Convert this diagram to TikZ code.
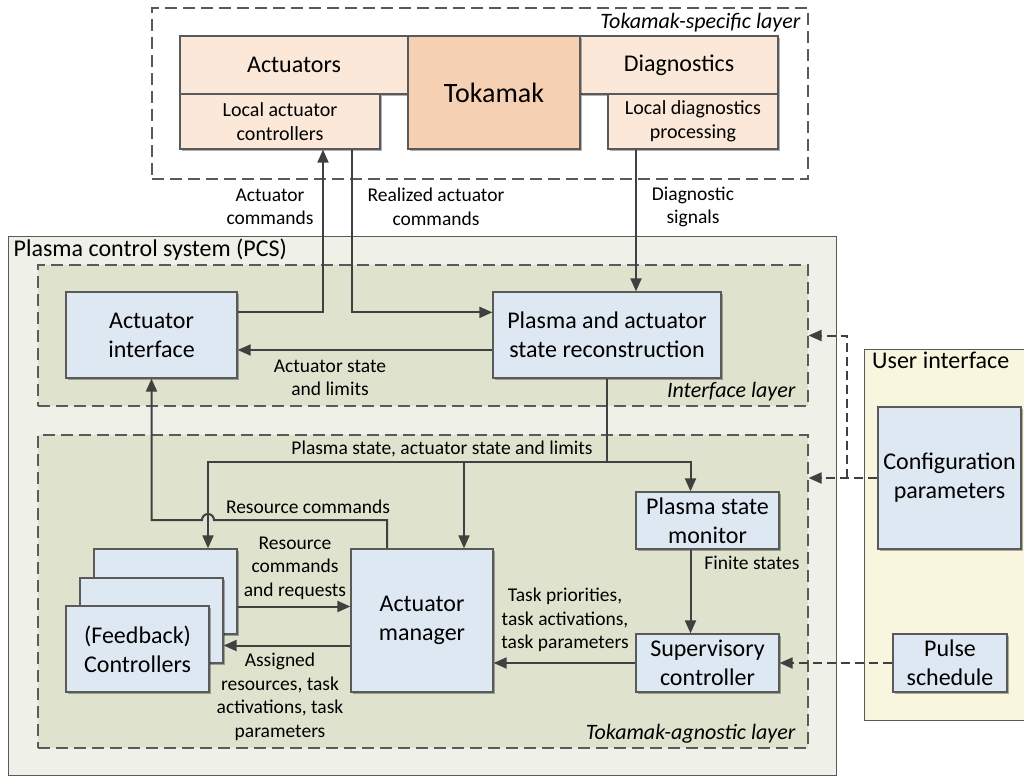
\documentclass[tikz,border=0pt]{standalone}
\usepackage{fontspec}
\setmainfont{Carlito}
\usetikzlibrary{arrows.meta,shadows}
\definecolor{linegray}{RGB}{64,64,64}
\definecolor{boxedge}{RGB}{90,90,90}
\definecolor{boxblue}{RGB}{222,232,243}
\definecolor{peachlight}{RGB}{251,232,216}
\definecolor{peach}{RGB}{246,208,178}
\definecolor{pcsfill}{RGB}{239,241,232}
\definecolor{layerfill}{RGB}{223,227,205}
\definecolor{uifill}{RGB}{248,246,222}
\begin{document}
\begin{tikzpicture}[x=1pt, y=-1pt,
    box/.style={draw=boxedge, line width=1.3pt, fill=boxblue, inner sep=0pt, align=center,
        font=\fontsize{24}{29}\selectfont,
        drop shadow={shadow xshift=1.5pt, shadow yshift=-1.5pt, opacity=0.3, fill=black}},
    tokbox/.style={box, fill=peachlight, drop shadow={shadow xshift=0pt, shadow yshift=0pt, opacity=0}},
    layer/.style={draw=boxedge, line width=1.1pt, dash pattern=on 12pt off 6pt, fill=layerfill, inner sep=0pt},
    lbl/.style={align=center, inner sep=0pt, text=black, font=\fontsize{19.5}{23.5}\selectfont},
    layerlbl/.style={inner sep=0pt, font=\fontsize{22}{26}\selectfont\itshape},
    conn/.style={draw=linegray, line width=2pt, -{Triangle[length=13pt, width=11pt]}},
    dconn/.style={conn, dash pattern=on 9pt off 5pt},
    line/.style={draw=linegray, line width=2pt}]
    \useasboundingbox (0,0) rectangle (1024,777);

    % Tokamak-specific layer
    \node[draw=boxedge, line width=1.1pt, dash pattern=on 12pt off 6pt, minimum width=656pt, minimum height=171pt] (tsl) at (480,93.5) {};
    \node[layerlbl, anchor=north east] at ([xshift=-8pt, yshift=-6pt]tsl.north east) {Tokamak-specific layer};
    \node[tokbox, minimum width=228pt, minimum height=58pt] (act) at (294,65) {Actuators};
    \node[tokbox, minimum width=200pt, minimum height=55pt, font=\fontsize{20}{24.5}\selectfont] (lac) at (280,121.5) {Local actuator\\controllers};
    \node[tokbox, minimum width=198pt, minimum height=58pt] (diag) at (679,65) {Diagnostics};
    \node[tokbox, minimum width=170pt, minimum height=55pt, font=\fontsize{20}{24.5}\selectfont] (ldp) at (693,121.5) {Local diagnostics\\processing};
    \node[tokbox, fill=peach, minimum width=172pt, minimum height=113pt, font=\fontsize{28}{32}\selectfont] (tok) at (494,92.5) {Tokamak};

    % Plasma control system
    \node[draw=boxedge, line width=1pt, fill=pcsfill, minimum width=828pt, minimum height=539pt] (pcs) at (422,505.5) {};
    \node[anchor=north west, inner sep=0pt, font=\fontsize{24}{29}\selectfont] at ([xshift=6pt, yshift=-3pt]pcs.north west) {Plasma control system (PCS)};

    % Interface layer
    \node[layer, minimum width=770pt, minimum height=141pt] (iface) at (423,335.5) {};
    \node[layerlbl, anchor=south east] at ([xshift=-13pt, yshift=5pt]iface.south east) {Interface layer};
    \node[box, minimum width=171pt, minimum height=86pt] (actif) at (151.5,335) {Actuator\\interface};
    \node[box, minimum width=228pt, minimum height=86pt] (recon) at (607,335) {Plasma and actuator\\state reconstruction};

    % Tokamak-agnostic layer
    \node[layer, minimum width=770pt, minimum height=313pt] (agn) at (423,591.5) {};
    \node[layerlbl, anchor=south east] at ([xshift=-13pt, yshift=5pt]agn.south east) {Tokamak-agnostic layer};
    \node[box, minimum width=143pt, minimum height=85pt] (ctrlc) at (165.5,591.5) {};
    \node[box, minimum width=143pt, minimum height=85pt] (ctrlb) at (151.5,620.5) {};
    \node[box, minimum width=143pt, minimum height=86pt] (ctrla) at (137.5,649) {(Feedback)\\Controllers};
    \node[box, minimum width=142pt, minimum height=143pt] (mgr) at (422,620.5) {Actuator\\manager};
    \node[box, minimum width=143pt, minimum height=57pt] (mon) at (707.5,520.5) {Plasma state\\monitor};
    \node[box, minimum width=143pt, minimum height=58pt] (sup) at (707.5,663) {Supervisory\\controller};

    % User interface
    \fill[uifill] (864,349) rectangle (1030,720);
    \draw[boxedge, line width=1pt] (1030,349) -- (864,349) -- (864,720) -- (1030,720);
    \node[coordinate] (ui) at (864,349) {};
    \node[anchor=north west, inner sep=0pt, font=\fontsize{24}{29}\selectfont] at ([xshift=8pt, yshift=-3pt]ui) {User interface};
    \node[box, minimum width=143pt, minimum height=142pt] (cfg) at (949.5,478) {Configuration\\parameters};
    \node[box, minimum width=114pt, minimum height=58pt] (pulse) at (950,663) {Pulse\\schedule};

    % Tokamak <-> interface layer
    \draw[conn] ([yshift=-21pt]actif.north east) -| ([xshift=43pt]lac.south);
    \node[lbl] at (270,207) {Actuator\\commands};
    \draw[conn] ([xshift=72pt]lac.south) |- ([yshift=-21pt]recon.north west);
    \node[lbl] at (436,207) {Realized actuator\\commands};
    \draw[conn] ([xshift=-57pt]ldp.south) -- ([xshift=-57pt]ldp.south |- recon.north);
    \node[lbl] at (693,207) {Diagnostic\\signals};
    \draw[conn] ([yshift=-15pt]recon.west) -- ([yshift=-15pt]recon.west -| actif.east);
    \node[lbl] at (330,378) {Actuator state\\and limits};

    % Plasma state bus
    \coordinate (bus) at (607,462);
    \draw[line] (recon.south) -- (bus);
    \draw[conn] (bus) -| ([xshift=-17pt]mon.north);
    \draw[conn] (bus) -| ([xshift=42pt]mgr.north);
    \draw[conn] (bus) -| ([xshift=42.5pt]ctrlc.north);
    \node[lbl] at (442,449) {Plasma state, actuator state and limits};

    % Resource commands with hop over the bus branch
    \coordinate (hop) at (214,520);
    \draw[conn] ([xshift=-35pt]mgr.north) |- (hop) arc[start angle=0, end angle=180, radius=6pt] -- (actif.south |- hop) -- (actif.south);
    \node[lbl] at (308,507) {Resource commands};

    % Controllers <-> manager
    \draw[conn] ([yshift=-15pt]ctrlc.east) -- ([yshift=-15pt]ctrlc.east -| mgr.west);
    \node[lbl] at (295,568) {Resource\\commands\\and requests};
    \draw[conn] ([yshift=-25pt]ctrlb.east -| mgr.west) -- ([yshift=-25pt]ctrlb.east);
    \node[lbl] at (280,697) {Assigned\\resources, task\\activations, task\\parameters};

    % Supervision
    \draw[conn] ([xshift=-17pt]mon.south) -- ([xshift=-17pt]sup.north);
    \node[lbl] at (752,563) {Finite states};
    \draw[conn] (sup.west) -- (sup.west -| mgr.east);
    \node[lbl] at (565,620) {Task priorities,\\task activations,\\task parameters};

    % User inputs
    \draw[dconn] (cfg.west) -- (cfg.west -| agn.east);
    \draw[dconn] ([xshift=-30pt]cfg.west) |- (iface.east);
    \draw[dconn] (pulse.west) -- (sup.east);
\end{tikzpicture}
\end{document}
